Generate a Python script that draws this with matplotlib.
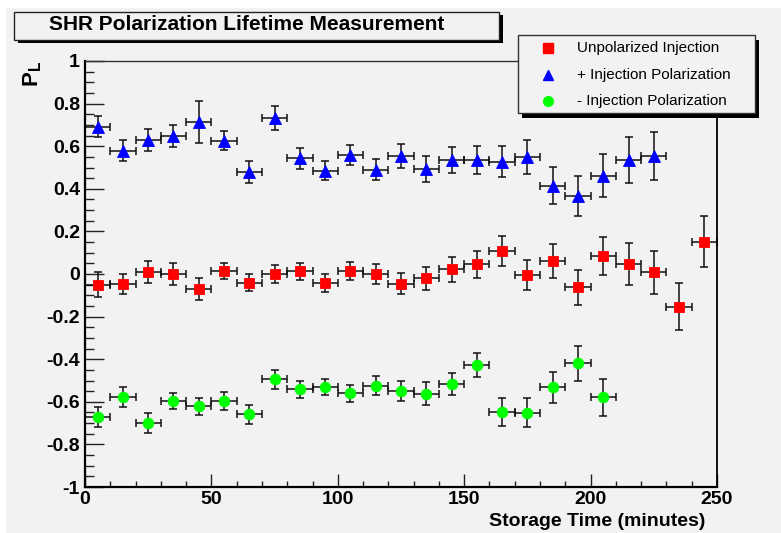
"""
SHR polarization lifetime plot (ROOT-like style)
"""
import matplotlib
matplotlib.use("Agg")
import matplotlib.pyplot as plt
from matplotlib.patches import Rectangle
from matplotlib.lines import Line2D
from matplotlib.ticker import MultipleLocator, FuncFormatter

# ---- data ----
bin_half = 5.0
time_unpol = [5, 15, 25, 35, 45, 55, 65, 75, 85, 95, 105, 115, 125,
              135, 145, 155, 165, 175, 185, 195, 205, 215, 225, 235, 245]
pol_unpol = [-0.05, -0.045, 0.01, 0.0, -0.07, 0.015, -0.04, 0.0, 0.012,
             -0.042, 0.016, 0.001, -0.045, -0.02, 0.022, 0.045, 0.107,
             -0.005, 0.06, -0.062, 0.085, 0.048, 0.008, -0.153, 0.152]
err_unpol = [0.06, 0.047, 0.05, 0.052, 0.052, 0.038, 0.042, 0.044, 0.039,
             0.041, 0.042, 0.046, 0.051, 0.054, 0.06, 0.064, 0.07, 0.072,
             0.08, 0.082, 0.09, 0.099, 0.10, 0.11, 0.12]

time_plus = time_unpol[:23]
pol_plus = [0.692, 0.579, 0.629, 0.648, 0.714, 0.626, 0.479, 0.732, 0.543,
            0.484, 0.559, 0.49, 0.556, 0.494, 0.534, 0.535, 0.527, 0.549,
            0.415, 0.368, 0.462, 0.537, 0.556]
err_plus = [0.05, 0.05, 0.05, 0.05, 0.1, 0.045, 0.05, 0.058, 0.05, 0.045,
            0.045, 0.05, 0.056, 0.06, 0.062, 0.067, 0.073, 0.08, 0.087,
            0.094, 0.1, 0.108, 0.113]

time_minus = time_unpol[:21]
pol_minus = [-0.671, -0.577, -0.70, -0.598, -0.621, -0.596, -0.659, -0.494,
             -0.541, -0.529, -0.56, -0.524, -0.549, -0.562, -0.515, -0.427,
             -0.646, -0.651, -0.532, -0.419, -0.579]
err_minus = [0.045, 0.048, 0.047, 0.038, 0.04, 0.042, 0.045, 0.045, 0.041,
             0.038, 0.04, 0.044, 0.047, 0.054, 0.052, 0.058, 0.066, 0.069,
             0.074, 0.083, 0.088]

series = [
    ("Unpolarized Injection", time_unpol, pol_unpol, err_unpol, "s", "#ff0000", 7.2),
    ("+ Injection Polarization", time_plus, pol_plus, err_plus, "^", "#0000ff", 8.2),
    ("- Injection Polarization", time_minus, pol_minus, err_minus, "o", "#00ff00", 7.7),
]

title = "SHR Polarization Lifetime Measurement"
x_label = "Storage Time (minutes)"

# ---- style ----
W, H = 781, 533
BG = "#f2f2f2"
plt.rcParams["font.family"] = ["Liberation Sans", "DejaVu Sans"]
plt.rcParams["mathtext.fontset"] = "custom"
plt.rcParams["mathtext.bf"] = "Liberation Sans:bold"
plt.rcParams["mathtext.rm"] = "Liberation Sans:bold"

fig = plt.figure(figsize=(W / 100, H / 100), dpi=100, facecolor="white")
# canvas (thin white margin on left/top like the screenshot)
fig.patches.append(Rectangle((6 / W, 0), 1, 1 - 8 / H, transform=fig.transFigure,
                             facecolor=BG, edgecolor="none", zorder=-5))

px = lambda v: v / W
py = lambda v: 1 - v / H

ax = fig.add_axes([px(85), py(487), (717 - 85) / W, (487 - 61) / H])
ax.set_facecolor(BG)

for label, t, p, e, mk, col, ms in series:
    ax.errorbar(t, p, xerr=bin_half, yerr=e, fmt="none", ecolor="#111111",
                elinewidth=1.1, capsize=3, capthick=1.1, zorder=2)
    ax.plot(t, p, linestyle="none", marker=mk, color=col, ms=ms,
            mec=col, mew=0.6, zorder=3, clip_on=False)

ax.set_xlim(0, 250)
ax.set_ylim(-1, 1)
ax.xaxis.set_major_locator(MultipleLocator(50))
ax.xaxis.set_minor_locator(MultipleLocator(10))
ax.yaxis.set_major_locator(MultipleLocator(0.2))
ax.yaxis.set_minor_locator(MultipleLocator(0.05))
ax.yaxis.set_major_formatter(FuncFormatter(
    lambda v, _: "0" if abs(v) < 1e-9 else ("%g" % round(v, 1))))
ax.xaxis.set_major_formatter(FuncFormatter(lambda v, _: "%d" % v))

ax.tick_params(axis="y", which="major", direction="in", length=13.7, width=1,
               color="#222222", labelsize=14, pad=3.6)
ax.tick_params(axis="y", which="minor", direction="in", length=6.8, width=1,
               color="#222222")
ax.tick_params(axis="x", which="major", direction="in", length=9.2, width=1,
               color="#222222", labelsize=14, pad=3.2)
ax.tick_params(axis="x", which="minor", direction="in", length=4.6, width=1,
               color="#222222")
for lab in ax.get_xticklabels() + ax.get_yticklabels():
    lab.set_fontweight("bold")

ax.spines["left"].set_linewidth(1.6)
ax.spines["bottom"].set_linewidth(1.6)
ax.spines["right"].set_linewidth(1.3)
ax.spines["top"].set_linewidth(1.0)
ax.spines["top"].set_color("#333333")

# axis titles
fig.text(px(705), py(521), x_label, ha="right", va="center",
         fontsize=14, fontweight="bold")
fig.text(px(33), py(61), r"$\mathbf{P_{L}}$", rotation=90, ha="center",
         va="top", fontsize=16)

# title box with shadow
tx0, ty0, tx1, ty1 = 14, 12, 499, 40
fig.patches.append(Rectangle((px(tx0 + 4), py(ty1 + 3)), (tx1 - tx0) / W, (ty1 - ty0) / H,
                             transform=fig.transFigure, facecolor="black",
                             edgecolor="none", zorder=1))
fig.patches.append(Rectangle((px(tx0), py(ty1)), (tx1 - tx0) / W, (ty1 - ty0) / H,
                             transform=fig.transFigure, facecolor=BG,
                             edgecolor="#222222", lw=1.0, zorder=2))
fig.text(px(49), py(25), title, ha="left", va="center", fontsize=15,
         fontweight="bold", zorder=3)

# legend box with shadow
lx0, ly0, lx1, ly1 = 518, 35, 755, 113
fig.patches.append(Rectangle((px(lx0 + 4), py(ly1 + 5)), (lx1 - lx0) / W, (ly1 - ly0) / H,
                             transform=fig.transFigure, facecolor="black",
                             edgecolor="none", zorder=4))
fig.patches.append(Rectangle((px(lx0), py(ly1)), (lx1 - lx0) / W, (ly1 - ly0) / H,
                             transform=fig.transFigure, facecolor=BG,
                             edgecolor="#333333", lw=1.0, zorder=5))
for i, (label, t, p, e, mk, col, ms) in enumerate(series):
    yy = py(48 + 26.5 * i)
    fig.lines.append(Line2D([px(548)], [yy], transform=fig.transFigure,
                            marker=mk, color=col, ms=ms - 0.7,
                            linestyle="none", zorder=6))
    fig.text(px(577), yy, label, ha="left", va="center", fontsize=11, zorder=6)

fig.savefig("out.png", dpi=100, facecolor=fig.get_facecolor())
plt.close(fig)
